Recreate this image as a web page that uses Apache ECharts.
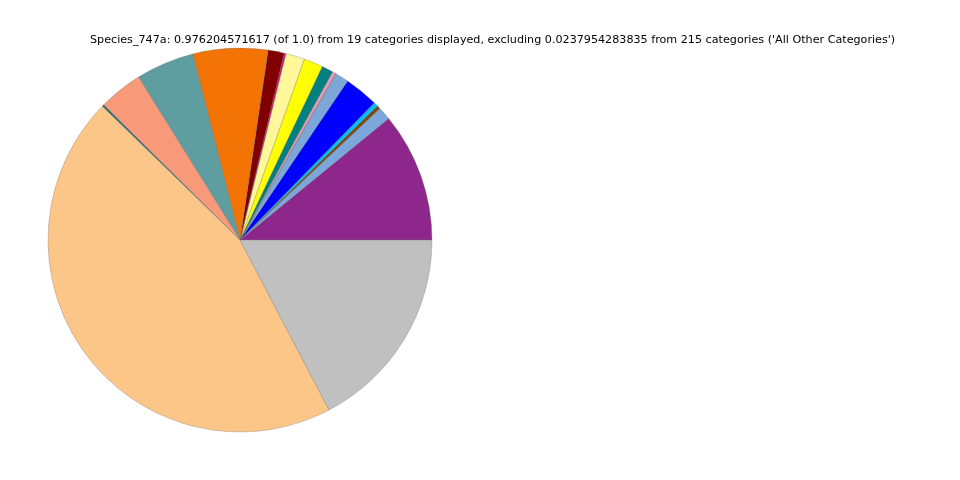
<!DOCTYPE html>
<html>
<head>
<meta charset="utf-8">
<script src="https://cdn.jsdelivr.net/npm/echarts@6/dist/echarts.min.js"></script>
<style>html,body{margin:0;padding:0;background:#fff}#c{width:960px;height:480px}</style>
</head>
<body>
<div id="c"></div>
<script>
var categories = ["Cat 1","Cat 2","Cat 3","Cat 4","Cat 5","Cat 6","Cat 7","Cat 8","Cat 9","Cat 10","Cat 11","Cat 12","Cat 13","Cat 14","Cat 15","Cat 16","Cat 17","Cat 18","Cat 19"];
var values = [0.109,0.011,0.003,0.0035,0.0287,0.011,0.001,0.0025,0.0097,0.016,0.016,0.0015,0.0135,0.063,0.049,0.037,0.0017,0.449,0.173];
var colors = ["#8e278b","#7ba7da","#7a4a12","#00bfff","#0000ff","#7ba7da","#a0a0a0","#f49ac1","#008080","#ffff00","#fff799","#e6007e","#800000","#f37304","#5f9ea0","#f8997a","#2f6f6f","#fdc689","#c0c0c0"];
var titleText = "Species_747a: 0.976204571617 (of 1.0) from 19 categories displayed, excluding 0.0237954283835 from 215 categories ('All Other Categories')";

var chart = echarts.init(document.getElementById('c'), null, {renderer:'canvas'});
chart.setOption({
  animation: false,
  title: {
    text: titleText,
    left: 85, top: 30,
    textStyle: {fontFamily: 'DejaVu Sans', fontSize: 11.16, fontWeight: 'normal', color: '#000'}
  },
  series: [{
    type: 'pie',
    center: [240, 240],
    radius: [0, 192],
    startAngle: 0,
    clockwise: false,
    avoidLabelOverlap: false,
    minAngle: 0,
    label: {show: false},
    labelLine: {show: false},
    emphasis: {disabled: true},
    itemStyle: {borderColor: '#666', borderWidth: 0.3},
    data: categories.map(function(n, i){ return {name: n, value: values[i], itemStyle: {color: colors[i]}}; })
  }]
});
</script>
</body>
</html>
